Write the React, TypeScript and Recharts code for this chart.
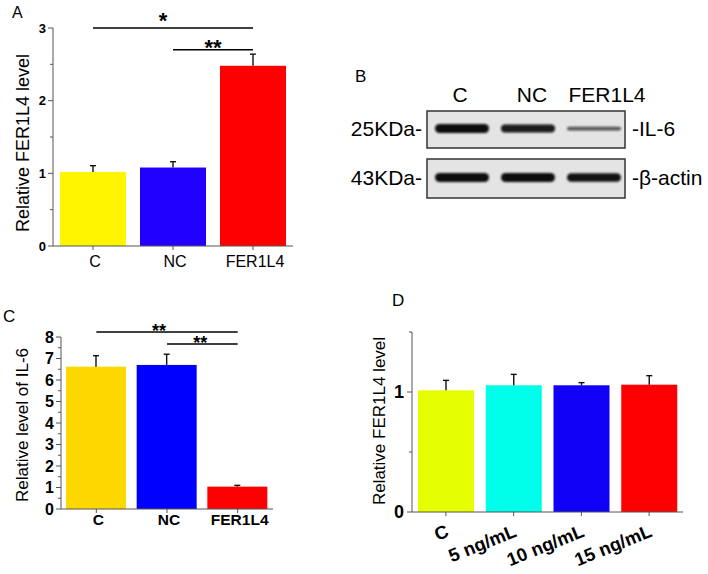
import React from "react"
import { Bar, BarChart, Cell, ReferenceLine, XAxis, YAxis } from "recharts"

const FONT = "Arial, 'Liberation Sans', Helvetica, sans-serif"

// panel A - FER1L4 expression after transfection
const groupsA = ["C", "NC", "FER1L4"]
const levelsA = [1.02, 1.08, 2.48]
const errorsA = [0.085, 0.08, 0.16]
const colorsA = ["#FFF500", "#2200FF", "#FF0000"]
const ticksA = [0, 0.5, 1, 1.5, 2, 2.5, 3]

// panel B - western blot band intensities (relative)
const blotLanes = ["C", "NC", "FER1L4"]
const il6Bands = [1.0, 0.85, 0.25]
const actinBands = [1.0, 1.0, 0.95]

// panel C - IL-6 level
const groupsC = ["C", "NC", "FER1L4"]
const levelsC = [6.62, 6.7, 1.04]
const errorsC = [0.51, 0.5, 0.06]
const colorsC = ["#FFD800", "#0000FF", "#FF0000"]
const ticksC = [0, 0.5, 1, 1.5, 2, 2.5, 3, 3.5, 4, 4.5, 5, 5.5, 6, 6.5, 7, 7.5, 8]

// panel D - FER1L4 level vs IL-6 dose
const groupsD = ["C", "5 ng/mL", "10 ng/mL", "15 ng/mL"]
const levelsD = [1.014, 1.056, 1.056, 1.061]
const errorsD = [0.083, 0.091, 0.022, 0.075]
const colorsD = ["#E6FF00", "#00FFEA", "#1000F5", "#FF0000"]
const ticksD = [0, 0.5, 1, 1.5]

const sigA = [
  { from: "C", to: "FER1L4", y: 3.0, mark: "*", dx: -10, off: 0 },
  { from: "NC", to: "FER1L4", y: 2.7, mark: "**", dx: 0, off: -5 }
]
const sigC = [
  { from: "C", to: "FER1L4", y: 8.23, mark: "**", dx: -8, off: -5 },
  { from: "NC", to: "FER1L4", y: 7.67, mark: "**", dx: -2, off: -5 }
]

const rows = (names: string[], vals: number[], errs: number[]) =>
  names.map((name, i) => ({ name, value: vals[i], err: errs[i] }))

const dataA = rows(groupsA, levelsA, errorsA)
const dataC = rows(groupsC, levelsC, errorsC)
const dataD = rows(groupsD, levelsD, errorsD)

// bar with an upward-only error bar, scaled from the bar's own pixel height
function BarWithError(props: any) {
  const { x, y, width, height, fill, payload } = props
  const ep = payload.value ? (height * payload.err) / payload.value : 0
  const cx = x + width / 2
  return (
    <g>
      <rect x={x} y={y} width={width} height={height} fill={fill} />
      <line x1={cx} x2={cx} y1={y} y2={y - ep} stroke="#111" strokeWidth={1.4} />
      <line x1={cx - 3} x2={cx + 3} y1={y - ep} y2={y - ep} stroke="#111" strokeWidth={1.4} />
    </g>
  )
}

const yTick = (fontSize: number, gap: number) => (p: any) => {
  const v = p.payload.value
  const major = Number.isInteger(v)
  return (
    <g>
      <line x1={p.x - (major ? 5 : 3)} x2={p.x} y1={p.y} y2={p.y} stroke="#555" />
      {major && (
        <text
          x={p.x - gap}
          y={p.y}
          textAnchor="end"
          dominantBaseline="central"
          fontSize={fontSize}
          fontWeight="bold"
          fill="#000"
          fontFamily={FONT}>
          {v}
        </text>
      )}
    </g>
  )
}

const xTick = (fontSize: number, dy: number, weight: string) => (p: any) => (
  <g>
    <line x1={p.x} x2={p.x} y1={p.y} y2={p.y + 4} stroke="#555" />
    <text
      x={p.x + 2}
      y={p.y + dy}
      textAnchor="middle"
      fontSize={fontSize}
      fontWeight={weight}
      fill="#000"
      fontFamily={FONT}>
      {p.payload.value}
    </text>
  </g>
)

const xTickD = (p: any) => (
  <g>
    <line x1={p.x} x2={p.x} y1={p.y} y2={p.y + 4} stroke="#555" />
    <text
      x={p.x + 4}
      y={p.y + 24}
      transform={`rotate(-22, ${p.x + 4}, ${p.y + 24})`}
      textAnchor="end"
      fontSize={18.5}
      fontWeight="bold"
      fill="#000"
      fontFamily={FONT}>
      {p.payload.value}
    </text>
  </g>
)

function Blot() {
  const boxX = 427
  const boxW = 198
  const laneW = boxW / blotLanes.length
  const rowsY = [
    { top: 111, h: 37, bands: il6Bands },
    { top: 159, h: 39, bands: actinBands }
  ]
  return (
    <g>
      <defs>
        <filter id="blur" x="-20%" y="-100%" width="140%" height="300%">
          <feGaussianBlur stdDeviation="1.1" />
        </filter>
      </defs>
      {rowsY.map((r, ri) => (
        <g key={ri}>
          <rect x={boxX} y={r.top} width={boxW} height={r.h} fill="#e4e4e4" stroke="#333" strokeWidth={1.5} />
          {r.bands.map((b, i) => {
            const t = 2 + 7 * b
            return (
              <rect
                key={i}
                x={boxX + i * laneW + 8}
                y={r.top + r.h / 2 - t / 2 - 1}
                width={laneW - 12}
                height={t}
                rx={t / 2}
                fill="#0a0a0a"
                opacity={0.55 + 0.45 * b}
                filter="url(#blur)"
              />
            )
          })}
        </g>
      ))}
    </g>
  )
}

export default function App() {
  const axis = { stroke: "#555" }
  return (
    <div style={{ position: "absolute", left: 0, top: 0, width: 708, height: 574, background: "#fff", fontFamily: FONT }}>
      {/* A */}
      <div style={{ position: "absolute", left: 0, top: 0 }}>
        <BarChart width={300} height={280} data={dataA} margin={{ top: 28, right: 7, left: 0, bottom: 4 }}>
          <XAxis dataKey="name" axisLine={axis} tickLine={false} tickSize={0} tickMargin={0} height={30} tick={xTick(16, 21, "normal")} interval={0} />
          <YAxis domain={[0, 3]} ticks={ticksA} interval={0} width={53} axisLine={axis} tickLine={false} tickSize={0} tickMargin={0} tick={yTick(13, 7)} />
          <Bar dataKey="value" barSize={66} isAnimationActive={false} shape={BarWithError}>
            {dataA.map((d, i) => (
              <Cell key={d.name} fill={colorsA[i]} />
            ))}
          </Bar>
          {sigA.map((s) => (
            <ReferenceLine
              key={s.from}
              segment={[{ x: s.from, y: s.y }, { x: s.to, y: s.y }]}
              stroke="#000"
              strokeWidth={1.5}
              ifOverflow="visible"
              label={{ value: s.mark, position: "top", offset: s.off, dx: s.dx, fontSize: 22, fontWeight: "bold", fill: "#000" }}
            />
          ))}
        </BarChart>
      </div>

      {/* C */}
      <div style={{ position: "absolute", left: 0, top: 300 }}>
        <BarChart width={290} height={240} data={dataC} margin={{ top: 37, right: 17, left: 0, bottom: 1 }}>
          <XAxis dataKey="name" axisLine={axis} tickLine={false} tickSize={0} tickMargin={0} height={30} tick={xTick(15.5, 16, "bold")} interval={0} />
          <YAxis domain={[0, 8]} ticks={ticksC} interval={0} width={61} axisLine={axis} tickLine={false} tickSize={0} tickMargin={0} tick={yTick(16, 7)} />
          <Bar dataKey="value" barSize={60} isAnimationActive={false} shape={BarWithError}>
            {dataC.map((d, i) => (
              <Cell key={d.name} fill={colorsC[i]} />
            ))}
          </Bar>
          {sigC.map((s) => (
            <ReferenceLine
              key={s.from}
              segment={[{ x: s.from, y: s.y }, { x: s.to, y: s.y }]}
              stroke="#000"
              strokeWidth={1.5}
              ifOverflow="visible"
              label={{ value: s.mark, position: "top", offset: s.off, dx: s.dx, fontSize: 18, fontWeight: "bold", fill: "#000" }}
            />
          ))}
        </BarChart>
      </div>

      {/* D */}
      <div style={{ position: "absolute", left: 370, top: 290 }}>
        <BarChart width={336} height={284} data={dataD} margin={{ top: 42, right: 23, left: 0, bottom: 0 }}>
          <XAxis dataKey="name" axisLine={axis} tickLine={false} tickSize={0} tickMargin={0} height={62} tick={xTickD} interval={0} />
          <YAxis domain={[0, 1.5]} ticks={ticksD} interval={0} width={42} axisLine={axis} tickLine={false} tickSize={0} tickMargin={0} tick={yTick(18, 8)} />
          <Bar dataKey="value" barSize={56} isAnimationActive={false} shape={BarWithError}>
            {dataD.map((d, i) => (
              <Cell key={d.name} fill={colorsD[i]} />
            ))}
          </Bar>
        </BarChart>
      </div>

      {/* labels, titles and the blot */}
      <svg width={708} height={574} style={{ position: "absolute", left: 0, top: 0, pointerEvents: "none" }} fontFamily={FONT}>
        <text x={12} y={18} fontSize={16}>A</text>
        <text x={23} y={143} fontSize={18} textAnchor="middle" dominantBaseline="central" transform="rotate(-90, 23, 143)">
          Relative FER1L4 level
        </text>

        <text x={355} y={82} fontSize={17}>B</text>
        {blotLanes.map((l, i) => (
          <text key={l} x={[460, 532, 607][i]} y={102} fontSize={21} textAnchor="middle">
            {l}
          </text>
        ))}
        <text x={422} y={136} fontSize={21} textAnchor="end">25KDa-</text>
        <text x={422} y={185} fontSize={21} textAnchor="end">43KDa-</text>
        <text x={632} y={136} fontSize={21}>-IL-6</text>
        <text x={632} y={185} fontSize={21}>-β-actin</text>
        <Blot />

        <text x={3} y={322} fontSize={17}>C</text>
        <text x={22} y={425} fontSize={17} textAnchor="middle" dominantBaseline="central" transform="rotate(-90, 22, 425)">
          Relative level of IL-6
        </text>

        <text x={392} y={306} fontSize={17}>D</text>
        <text x={379} y={421} fontSize={17} textAnchor="middle" dominantBaseline="central" transform="rotate(-90, 379, 421)">
          Relative FER1L4 level
        </text>
      </svg>
    </div>
  )
}
